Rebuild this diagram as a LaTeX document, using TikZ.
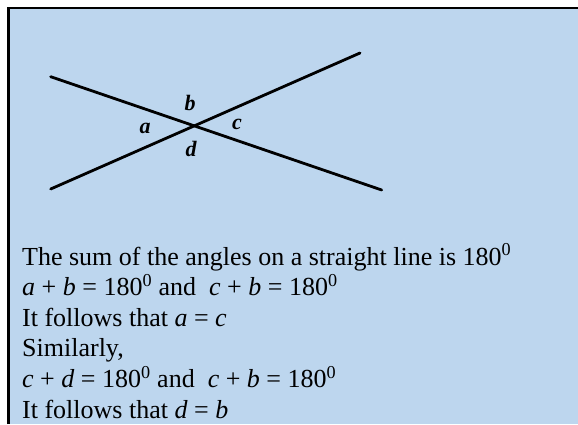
\documentclass[tikz,border=0pt]{standalone}
\usepackage{fontspec}
\setmainfont{Liberation Serif}
\definecolor{bgblue}{RGB}{189,214,238}
\begin{document}
\begin{tikzpicture}[x=1pt,y=-1pt,
  body/.style={anchor=base west, inner sep=0pt, font=\fontsize{26}{30}\selectfont},
  lbl/.style={inner sep=0pt, font=\fontsize{22}{26}\selectfont\bfseries\itshape},
  seg/.style={line width=2.8pt, line cap=round},
  frame/.style={line width=2.6pt}]
\useasboundingbox (0,0) rectangle (578,424);
\fill[white] (0,0) rectangle (578,424);
\fill[bgblue] (8.6,7.9) rectangle (578,424);
\draw[frame] (8.6,424) -- (8.6,7.9) -- (578,7.9);
% crossing lines
\coordinate (p1) at (50.7,76.7);
\coordinate (p2) at (381.7,190);
\coordinate (q1) at (50.7,189);
\coordinate (q2) at (360,53);
\draw[seg] (p1) -- (p2);
\draw[seg] (q1) -- (q2);
% angle labels
\node[lbl] (la) at (145,128) {a};
\node[lbl] (lb) at (190,103) {b};
\node[lbl] (lc) at (237,124) {c};
\node[lbl] (ld) at (191,149) {d};
% text
\node[body] (t1) at (22,265) {The sum of the angles on a straight line is 180\textsuperscript{0}};
\node[body] (t2) at (22,295.6) {\textit{a} + \textit{b} = 180\textsuperscript{0} and\ \ \textit{c} + \textit{b} = 180\textsuperscript{0}};
\node[body] (t3) at (22,326.2) {It follows that \textit{a} = \textit{c}};
\node[body] (t4) at (22,356.8) {Similarly,};
\node[body] (t5) at (22,387.4) {\textit{c} + \textit{d} = 180\textsuperscript{0} and\ \ \textit{c} + \textit{b} = 180\textsuperscript{0}};
\node[body] (t6) at (22,418) {It follows that \textit{d} = \textit{b}};
\end{tikzpicture}
\end{document}
